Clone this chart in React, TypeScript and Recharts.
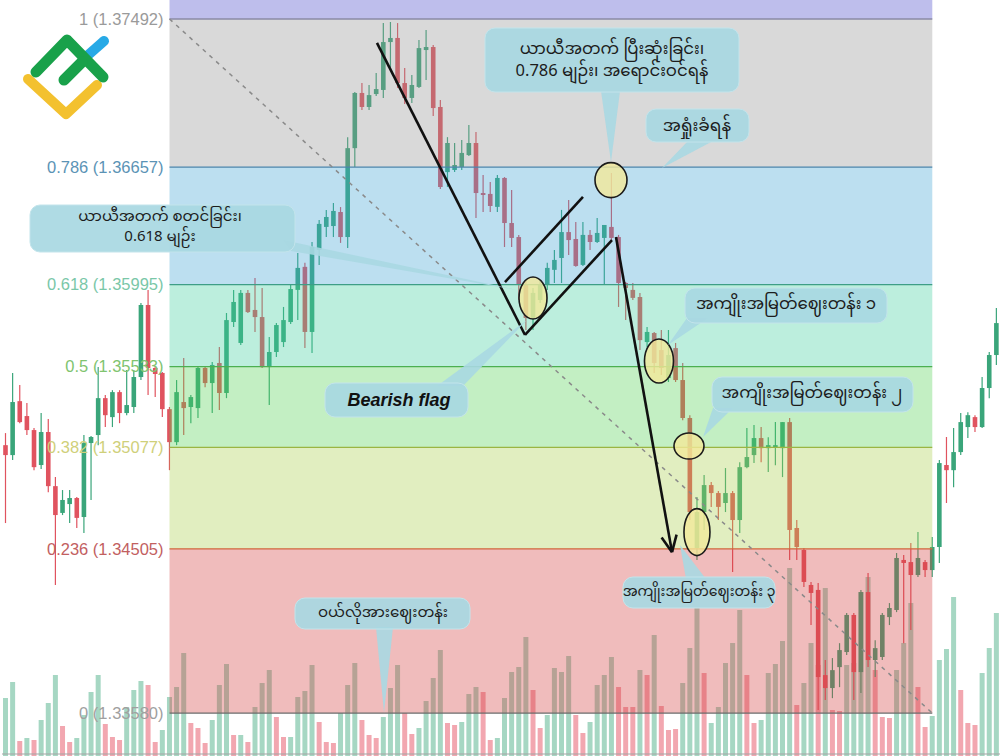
import {
  Bar,
  Cell,
  ComposedChart,
  ReferenceArea,
  ReferenceDot,
  ReferenceLine,
  XAxis,
  YAxis,
} from "recharts";

// OHLC per candle
const OPEN = [
  1.3509, 1.35034, 1.35338, 1.35254, 1.35175, 1.34978, 1.35164, 1.34859, 1.34708, 1.34758,
  1.34792, 1.34685, 1.35102, 1.35147, 1.35355, 1.35248, 1.35389, 1.35271, 1.35305, 1.35474,
  1.3588, 1.35525, 1.35497, 1.35293, 1.35107, 1.35333, 1.35305, 1.35299, 1.35525, 1.3544,
  1.35553, 1.35384, 1.35784, 1.35666, 1.35948, 1.35852, 1.35812, 1.3553, 1.35615, 1.35671,
  1.35784, 1.35965, 1.36095, 1.35728, 1.3619, 1.3632, 1.36325, 1.36404, 1.36263, 1.36764,
  1.37075, 1.36996, 1.37069, 1.37092, 1.37362, 1.37385, 1.37131, 1.37047, 1.37109, 1.37317,
  1.37334, 1.36996, 1.36629, 1.36641, 1.36658, 1.36725, 1.36793, 1.36511, 1.36506, 1.36433,
  1.36596, 1.36342, 1.36263, 1.35993, 1.35807, 1.35908, 1.35993, 1.36078, 1.36145, 1.36291,
  1.36252, 1.36106, 1.36275, 1.36235, 1.36258, 1.3632, 1.36263, 1.36004, 1.35965, 1.35925,
  1.35671, 1.35722, 1.35626, 1.35468, 1.35637, 1.35457, 1.35243, 1.3451, 1.34713, 1.34865,
  1.3482, 1.34764, 1.3482, 1.34668, 1.34966, 1.35034, 1.3513, 1.35073, 1.35079, 1.35073,
  1.3522, 1.34623, 1.34499, 1.34302, 1.34274, 1.33794, 1.33721, 1.33839, 1.33924, 1.34133,
  1.33811, 1.34262, 1.33879, 1.33896, 1.34121, 1.34161, 1.34443, 1.34431, 1.34358, 1.34431,
  1.34386, 1.34516, 1.34978, 1.34949, 1.35051, 1.35192, 1.35248, 1.35192, 1.35412, 1.35598,
];
const HIGH = [
  1.35158, 1.35497, 1.35429, 1.35327, 1.35186, 1.35271, 1.35237, 1.3491, 1.34837, 1.34837,
  1.34798, 1.35147, 1.35141, 1.3553, 1.35372, 1.354, 1.354, 1.35513, 1.35513, 1.35891,
  1.35965, 1.35536, 1.35502, 1.35305, 1.35457, 1.35581, 1.35372, 1.3553, 1.35536, 1.35559,
  1.35643, 1.35835, 1.35965, 1.35965, 1.35965, 1.36032, 1.35976, 1.35699, 1.35778, 1.35869,
  1.35993, 1.36173, 1.36118, 1.36235, 1.36359, 1.36416, 1.36455, 1.36432, 1.36826, 1.3708,
  1.37131, 1.3712, 1.37187, 1.37469, 1.37475, 1.37469, 1.37216, 1.37176, 1.37374, 1.3743,
  1.37345, 1.37035, 1.36826, 1.36793, 1.3681, 1.36894, 1.36855, 1.36613, 1.36573, 1.36613,
  1.36601, 1.36528, 1.36275, 1.36021, 1.35976, 1.36021, 1.36118, 1.3619, 1.36416, 1.36472,
  1.36348, 1.36348, 1.36303, 1.3637, 1.36331, 1.36624, 1.36275, 1.3601, 1.36004, 1.35948,
  1.35756, 1.35728, 1.35739, 1.35739, 1.35666, 1.35553, 1.35259, 1.34798, 1.34922, 1.34882,
  1.34832, 1.34961, 1.34832, 1.34994, 1.35186, 1.35203, 1.35192, 1.35135, 1.3522, 1.3522,
  1.35243, 1.34668, 1.3451, 1.34319, 1.34313, 1.33879, 1.3389, 1.33974, 1.34144, 1.34144,
  1.34273, 1.34369, 1.33991, 1.34144, 1.342, 1.34482, 1.34471, 1.34538, 1.346, 1.34443,
  1.34572, 1.35006, 1.35136, 1.35186, 1.35271, 1.35276, 1.35259, 1.35474, 1.35615, 1.35863,
];
const LOW = [
  1.34651, 1.35006, 1.35214, 1.35147, 1.34949, 1.34955, 1.34825, 1.34302, 1.34696, 1.34651,
  1.34623, 1.34595, 1.34781, 1.3509, 1.35192, 1.35192, 1.35214, 1.35259, 1.35271, 1.35457,
  1.35372, 1.35361, 1.35248, 1.34949, 1.3509, 1.35147, 1.35214, 1.35243, 1.35417, 1.35271,
  1.35288, 1.35355, 1.35756, 1.35654, 1.35835, 1.35728, 1.35525, 1.35316, 1.35587, 1.35643,
  1.35773, 1.35795, 1.35637, 1.35609, 1.36106, 1.36263, 1.36263, 1.3623, 1.36201, 1.36658,
  1.36979, 1.36979, 1.37058, 1.37047, 1.37221, 1.37103, 1.37013, 1.37018, 1.37103, 1.37148,
  1.36945, 1.36534, 1.36545, 1.36629, 1.36641, 1.3672, 1.3637, 1.36404, 1.36404, 1.36404,
  1.36207, 1.36207, 1.35908, 1.35739, 1.35739, 1.35891, 1.35965, 1.36004, 1.36004, 1.36162,
  1.36095, 1.361, 1.3619, 1.3623, 1.35993, 1.36246, 1.35869, 1.35795, 1.35908, 1.35626,
  1.35643, 1.35497, 1.35485, 1.35446, 1.35446, 1.35231, 1.34668, 1.34443, 1.34612, 1.34742,
  1.34668, 1.34713, 1.34375, 1.34595, 1.3496, 1.34989, 1.34994, 1.34938, 1.34977, 1.3491,
  1.34443, 1.34443, 1.34291, 1.34076, 1.33597, 1.33653, 1.33664, 1.33726, 1.33907, 1.33653,
  1.33693, 1.33839, 1.33783, 1.33879, 1.34076, 1.34149, 1.33974, 1.34048, 1.34347, 1.34347,
  1.34347, 1.34426, 1.34764, 1.34853, 1.35034, 1.3513, 1.35164, 1.35186, 1.35355, 1.35542,
];
const CLOSE = [
  1.35034, 1.35333, 1.3522, 1.35175, 1.34966, 1.35164, 1.34859, 1.34696, 1.34781, 1.34792,
  1.3468, 1.35102, 1.35136, 1.35355, 1.35259, 1.35389, 1.35271, 1.35316, 1.35474, 1.3588,
  1.35525, 1.35491, 1.35293, 1.35107, 1.35389, 1.35299, 1.35361, 1.35525, 1.3544, 1.35542,
  1.35384, 1.35795, 1.35897, 1.35948, 1.3584, 1.35812, 1.3553, 1.35615, 1.35767, 1.35795,
  1.3597, 1.36089, 1.35728, 1.36207, 1.36337, 1.36376, 1.3641, 1.36263, 1.36764, 1.37075,
  1.36996, 1.37063, 1.37097, 1.37362, 1.37385, 1.37131, 1.37047, 1.3712, 1.37328, 1.37334,
  1.3699, 1.36545, 1.36793, 1.36669, 1.36737, 1.36793, 1.36511, 1.365, 1.36438, 1.36596,
  1.36342, 1.36258, 1.35993, 1.35807, 1.35948, 1.35993, 1.36089, 1.36134, 1.36291, 1.36246,
  1.361, 1.36275, 1.36235, 1.36286, 1.36331, 1.36258, 1.36004, 1.35976, 1.3592, 1.35682,
  1.35728, 1.35553, 1.35525, 1.35598, 1.35457, 1.35243, 1.34713, 1.34713, 1.34865, 1.3482,
  1.34742, 1.3482, 1.34668, 1.34966, 1.35023, 1.3513, 1.35073, 1.3509, 1.3509, 1.3522,
  1.34612, 1.34516, 1.34319, 1.34257, 1.33783, 1.33721, 1.33822, 1.33935, 1.34133, 1.33811,
  1.34262, 1.33879, 1.33946, 1.34133, 1.34172, 1.34454, 1.34426, 1.34358, 1.34454, 1.34386,
  1.34516, 1.34989, 1.34949, 1.35051, 1.3522, 1.35259, 1.35192, 1.35412, 1.35598, 1.35778,
];
const VOLUME = [
  58, 74, 15, 18, 16, 36, 53, 81, 30, 14, 18, 41, 64, 81, 32, 19, 16, 49, 66, 75,
  71, 14, 26, 59, 69, 103, 33, 28, 13, 36, 71, 92, 21, 21, 14, 49, 73, 86, 39, 19,
  19, 59, 65, 91, 34, 14, 13, 43, 71, 93, 36, 21, 18, 39, 68, 91, 43, 22, 28, 55,
  78, 106, 33, 31, 34, 62, 69, 64, 16, 18, 58, 84, 89, 119, 66, 28, 41, 88, 84, 100,
  41, 23, 34, 71, 81, 99, 69, 49, 49, 86, 81, 121, 50, 26, 27, 73, 108, 148, 83, 33,
  49, 93, 113, 146, 81, 33, 36, 83, 92, 115, 188, 51, 73, 113, 91, 168, 46, 45, 91, 93,
  164, 179, 86, 39, 38, 86, 113, 153, 69, 29, 40, 96, 107, 159, 66, 33, 31, 83, 108, 143,
];
// 1 = buying volume (green), 0 = selling volume (red)
const VOLUME_UP = [
  1, 1, 0, 1, 0, 1, 1, 1, 0, 0, 1, 1, 1, 1, 0, 0, 0, 1, 1, 1,
  0, 0, 1, 1, 1, 1, 0, 0, 0, 1, 1, 1, 0, 1, 0, 1, 1, 1, 0, 0,
  1, 1, 1, 1, 0, 0, 0, 1, 1, 1, 0, 0, 0, 1, 1, 1, 0, 0, 1, 1,
  1, 1, 0, 0, 1, 1, 1, 0, 0, 1, 1, 1, 1, 1, 0, 0, 1, 1, 1, 1,
  0, 0, 1, 1, 1, 1, 0, 0, 0, 1, 0, 1, 0, 0, 0, 1, 1, 1, 0, 1,
  1, 1, 1, 1, 0, 0, 1, 1, 1, 1, 1, 0, 1, 1, 0, 1, 0, 0, 1, 1,
  1, 1, 0, 0, 0, 1, 1, 1, 0, 0, 1, 1, 1, 1, 0, 0, 0, 1, 1, 1,
];

const FIB_RATIOS = ["1", "0.786", "0.618", "0.5", "0.382", "0.236", "0"];
const FIB_PRICES = [1.37492, 1.36657, 1.35995, 1.35533, 1.35077, 1.34505, 1.3358];
const FIB_LINE = ["#8a8aa6", "#4b86ad", "#3e9e86", "#4caf50", "#9ab542", "#d2643c", "#6b6b6b"];
const FIB_TEXT = ["#9a9a9a", "#5b93b5", "#7ac7a8", "#80c46f", "#cfd07a", "#c2605f", "#a0a0a0"];
// band above each level (first one sits above level 1)
const FIB_FILL = ["#4545c9", "#929292", "#40a4d4", "#40ce9e", "#54d154", "#a9ce4b", "#d44040"];

const PRICE_DOMAIN = [1.33338, 1.37599];
const VOLUME_DOMAIN = [0, 756];
const FIB_START = 23;
const FIB_END = 130;

const GREEN = "#3aa57a";
const RED = "#e0535f";
const FONT = "'Liberation Sans', Arial, Helvetica, sans-serif";
const MM_FONT = "'Noto Sans Myanmar', 'Noto Sans Myanmar UI', Padauk, 'Myanmar Text', 'Noto Sans', sans-serif";

const rows = OPEN.map((open, i) => ({
  i,
  open,
  high: HIGH[i],
  low: LOW[i],
  close: CLOSE[i],
  range: [LOW[i], HIGH[i]],
  vol: VOLUME[i],
  volUp: VOLUME_UP[i] === 1,
}));

function Candle(props: any) {
  const { x, y, width, height, payload } = props;
  if (!payload) return null;
  const { open, close, high, low } = payload;
  const top = Math.min(y, y + height);
  const h = Math.abs(height);
  const k = high > low ? h / (high - low) : 0;
  const at = (v: number) => top + (high - v) * k;
  const cx = x + width / 2;
  const color = close >= open ? GREEN : RED;
  const bTop = at(Math.max(open, close));
  const bBot = at(Math.min(open, close));
  return (
    <g>
      <line x1={cx} x2={cx} y1={top} y2={top + h} stroke={color} strokeWidth={1.2} />
      <rect x={cx - 2.3} y={bTop} width={4.6} height={Math.max(1.2, bBot - bTop)} fill={color} />
    </g>
  );
}

// hand-drawn markup on the chart, in (candle index, price)
const TREND_LINES = [
  [[52.1, 1.37357], [72.87, 1.35711]],
  [[72.87, 1.35711], [85.07, 1.36246]],
  [[70.06, 1.36009], [81.0, 1.36489]],
  [[85.63, 1.36263], [93.49, 1.34487]],
  [[94.13, 1.34586], [93.49, 1.34487]],
  [[92.03, 1.3457], [93.49, 1.34487]],
];
const MARKS = [
  { x: 84.93, y: 1.36584, rx: 16, ry: 17.5 },
  { x: 73.99, y: 1.35919, rx: 14, ry: 21 },
  { x: 91.66, y: 1.35564, rx: 14.5, ry: 22 },
  { x: 95.87, y: 1.35085, rx: 15, ry: 13 },
  { x: 96.99, y: 1.346, rx: 13, ry: 23.5 },
];

// speech-bubble notes; two-line ones are laid out as one html block
const CALLOUTS = [
  { box: [30, 205, 265, 47], tail: "283,240 291,251 517,290", text: "ယာယီအတက် စတင်ခြင်း၊\n0.618 မျဉ်း", cx: 160, y: 228, size: 15, lh: 20 },
  { box: [485, 28, 254, 64], tail: "601,91 620,91 611,162", text: "ယာယီအတက် ပြီးဆုံးခြင်း၊\n0.786 မျဉ်း၊ အရောင်းဝင်ရန်", cx: 612, y: 61, size: 16.5, lh: 22 },
  { box: [646, 109, 103, 33], tail: "688,141 713,141 662,168", text: "အရှုံးခံရန်", cx: 697, y: 126, size: 17, lh: 0 },
  { box: [685, 288, 202, 35], tail: "687,318 708,318 668,345", text: "အကျိုးအမြတ်ဈေးတန်း ၁", cx: 786, y: 305, size: 16.5, lh: 0 },
  { box: [712, 377, 201, 35], tail: "713,408 733,408 703,437", text: "အကျိုးအမြတ်ဈေးတန်း ၂", cx: 812, y: 394, size: 16.5, lh: 0 },
  { box: [623, 577, 152, 31], tail: "686,579 706,579 680,545", text: "အကျိုးအမြတ်ဈေးတန်း ၃", cx: 699, y: 592, size: 14, lh: 0 },
  { box: [295, 598, 175, 31], tail: "376,627 393,627 384,713", text: "ဝယ်လိုအားဈေးတန်း", cx: 383, y: 613, size: 15, lh: 0 },
];

const BOX_FILL = "#a8d8e2";

function Overlay() {
  return (
    <>
      <svg width={1000} height={756} style={{ position: "absolute", left: 0, top: 0, pointerEvents: "none" }}>
        {/* logo */}
        <g fill="none" strokeLinecap="round" strokeLinejoin="round">
          <polyline points="28,79 66,114 97,85" stroke="#f3c12f" strokeWidth={10} />
          <line x1={87} y1={56} x2={104} y2={41} stroke="#27a9e6" strokeWidth={10} />
          <polyline points="36,72 67,40 103,77" stroke="#19a14a" strokeWidth={11} />
          <line x1={64} y1={80} x2={82} y2={62} stroke="#19a14a" strokeWidth={11} />
        </g>
        {CALLOUTS.map((c, k) => (
          <g key={k}>
            <polygon points={c.tail} fill={BOX_FILL} fillOpacity={0.9} />
            <rect x={c.box[0]} y={c.box[1]} width={c.box[2]} height={c.box[3]} rx={10} fill={BOX_FILL} fillOpacity={0.92} stroke="#c3e4eb" />
            {c.lh === 0 && (
              <text x={c.cx} y={c.y} textAnchor="middle" dominantBaseline="middle" fontFamily={MM_FONT} fontSize={c.size} fill="#1c1c1c">
                {c.text}
              </text>
            )}
          </g>
        ))}
        <polygon points="437,386 463,386 527,320" fill={BOX_FILL} fillOpacity={0.9} />
        <rect x={325} y={383} width={143} height={34} rx={10} fill={BOX_FILL} fillOpacity={0.92} stroke="#c3e4eb" />
        <text x={399} y={401} textAnchor="middle" dominantBaseline="middle" fontFamily={FONT} fontSize={18} fontWeight="bold" fontStyle="italic" fill="#111">
          Bearish flag
        </text>
      </svg>
      {CALLOUTS.filter((c) => c.lh > 0).map((c, k) => (
        <div
          key={k}
          style={{
            position: "absolute",
            left: c.cx - 150,
            top: c.y - c.lh,
            width: 300,
            height: c.lh * 2,
            textAlign: "center",
            whiteSpace: "pre",
            fontFamily: MM_FONT,
            fontSize: c.size,
            lineHeight: `${c.lh}px`,
            color: "#1c1c1c",
            pointerEvents: "none",
          }}
        >
          {c.text}
        </div>
      ))}
    </>
  );
}

export default function App() {
  return (
    <div style={{ position: "absolute", left: 0, top: 0, width: 1000, height: 756, background: "#fff", overflow: "hidden", fontFamily: FONT }}>
      <ComposedChart width={1000} height={756} data={rows} margin={{ top: 0, right: 0, bottom: 0, left: 2 }}>
        <XAxis xAxisId="c" dataKey="i" type="category" hide />
        <XAxis xAxisId="cv" dataKey="i" type="category" hide />
        <XAxis xAxisId="n" dataKey="i" type="number" domain={[-0.5, 139.5]} allowDataOverflow hide />
        <YAxis yAxisId="p" type="number" domain={PRICE_DOMAIN} allowDataOverflow hide />
        <YAxis yAxisId="v" type="number" domain={VOLUME_DOMAIN} allowDataOverflow hide />

        <Bar xAxisId="cv" yAxisId="v" dataKey="vol" barSize={5} isAnimationActive={false}>
          {rows.map((r) => (
            <Cell key={r.i} fill={r.volUp ? "#a6d7c3" : "#f2a7b0"} />
          ))}
        </Bar>
        <Bar xAxisId="c" yAxisId="p" dataKey="range" barSize={5} shape={Candle} isAnimationActive={false} />

        {FIB_PRICES.map((p, k) => (
          <ReferenceArea
            key={`a${k}`}
            xAxisId="n"
            yAxisId="p"
            x1={FIB_START}
            x2={FIB_END}
            y1={p}
            y2={k === 0 ? PRICE_DOMAIN[1] : FIB_PRICES[k - 1]}
            fill={FIB_FILL[k]}
            fillOpacity={0.35}
            stroke="none"
            zIndex={350}
          />
        ))}
        {FIB_PRICES.map((p, k) => (
          <ReferenceLine
            key={`l${k}`}
            xAxisId="n"
            yAxisId="p"
            segment={[{ x: FIB_START, y: p }, { x: FIB_END, y: p }]}
            stroke={FIB_LINE[k]}
            strokeWidth={1.3}
            zIndex={360}
            label={{ value: `${FIB_RATIOS[k]} (${p.toFixed(5)})`, position: "left", fill: FIB_TEXT[k], fontSize: 16.5, fontFamily: FONT, offset: 6 }}
          />
        ))}
        <ReferenceLine
          xAxisId="n"
          yAxisId="p"
          segment={[{ x: FIB_START, y: FIB_PRICES[0] }, { x: FIB_END, y: FIB_PRICES[6] }]}
          stroke="#8a8a8a"
          strokeWidth={1.5}
          strokeDasharray="4 5"
          zIndex={370}
        />
        <ReferenceLine xAxisId="n" yAxisId="v" y={2} stroke="#a5a5a5" strokeWidth={1} zIndex={360} />
        {MARKS.map((m, k) => (
          <ReferenceDot
            key={`m${k}`}
            xAxisId="n"
            yAxisId="p"
            x={m.x}
            y={m.y}
            r={m.rx}
            zIndex={380}
            shape={(p: any) => (
              <ellipse cx={p.cx} cy={p.cy} rx={m.rx} ry={m.ry} fill="#f2e89a" fillOpacity={0.8} stroke="#1b1b1b" strokeWidth={1.6} />
            )}
          />
        ))}
        {TREND_LINES.map((s, k) => (
          <ReferenceLine
            key={`t${k}`}
            xAxisId="n"
            yAxisId="p"
            segment={[{ x: s[0][0], y: s[0][1] }, { x: s[1][0], y: s[1][1] }]}
            stroke="#111"
            strokeWidth={2.6}
            zIndex={390}
          />
        ))}
      </ComposedChart>
      <Overlay />
    </div>
  );
}
